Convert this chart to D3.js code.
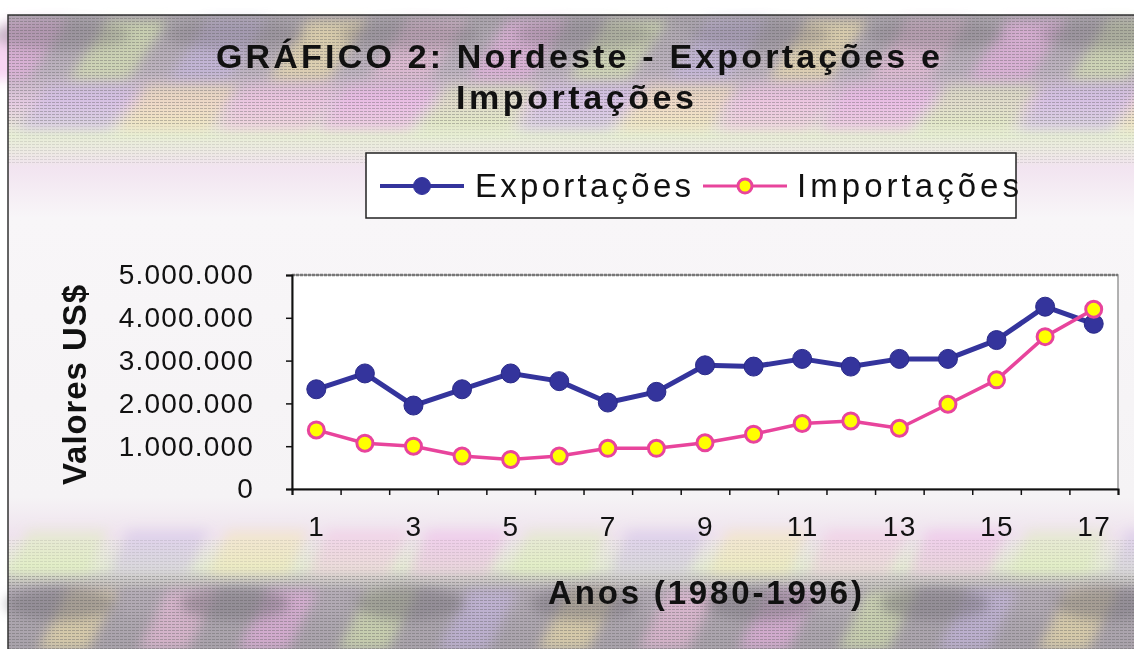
<!DOCTYPE html>
<html>
<head>
<meta charset="utf-8">
<script src="https://cdn.jsdelivr.net/npm/d3@7"></script>
<style>
  body { margin: 0; background: #fff; }
  svg { display: block; }
  text { font-family: "Liberation Sans", Arial, sans-serif; fill: #111; }
</style>
</head>
<body>
<div id="chart"></div>
<script>
'use strict';

// data (US$)
var anos = [1, 2, 3, 4, 5, 6, 7, 8, 9, 10, 11, 12, 13, 14, 15, 16, 17];
var exportacoes = [2330000, 2700000, 1950000, 2330000, 2700000, 2520000, 2020000, 2270000,
                   2890000, 2860000, 3040000, 2860000, 3040000, 3040000, 3480000, 4260000, 3860000];
var importacoes = [1380000, 1070000, 1000000, 770000, 690000, 770000, 950000, 950000,
                   1080000, 1280000, 1530000, 1590000, 1420000, 1980000, 2550000, 3560000, 4200000];
var yTicks = [0, 1000000, 2000000, 3000000, 4000000, 5000000];
var xLabels = [1, 3, 5, 7, 9, 11, 13, 15, 17];

var chart = {};
chart.W = 1134;
chart.H = 649;
chart.plot = {left: 292, right: 1118, top: 275, bottom: 489};
chart.blue = '#34349c';
chart.pink = '#e8449c';

chart.svg = d3.select('#chart').append('svg')
    .attr('width', chart.W)
    .attr('height', chart.H);

chart.drawBackground = function(svg) {
    var defs = svg.append('defs');

    var g = defs.append('linearGradient').attr('id', 'bgGrad')
        .attr('x1', 0).attr('y1', 0).attr('x2', 0).attr('y2', 1);
    [[0, '#a9a3ab'], [0.09, '#bdb3bf'], [0.14, '#e6cce2'], [0.19, '#e8efd6'],
     [0.24, '#f2e4f0'], [0.32, '#f8f6f8'], [0.76, '#f5f3f5'], [0.82, '#efe3ee'],
     [0.87, '#e6ecd6'], [0.91, '#b4acb6'], [1, '#a8a2aa']].forEach(function(s) {
        g.append('stop').attr('offset', s[0]).attr('stop-color', s[1]);
    });

    var p = defs.append('pattern').attr('id', 'stripes')
        .attr('width', 4).attr('height', 3).attr('patternUnits', 'userSpaceOnUse');
    p.append('rect').attr('width', 3).attr('height', 1).attr('fill', '#555').attr('opacity', 0.35);

    defs.append('filter').attr('id', 'soft')
        .append('feGaussianBlur').attr('stdDeviation', 6);

    svg.append('rect')
        .attr('x', 8).attr('y', 15)
        .attr('width', chart.W - 8).attr('height', chart.H - 15)
        .attr('fill', 'url(#bgGrad)');

    // pastel swooshes in top and bottom bands
    var sw = svg.append('g').attr('filter', 'url(#soft)');
    var cols = ['#f0b0e8', '#dcefb0', '#c8b8e8', '#f8e8a8', '#f4c0e0'];
    d3.range(0, 12).forEach(function(i) {
        var x0 = 8 + i * 100;
        sw.append('path')
            .attr('d', 'M' + x0 + ',20 l60,0 l-40,60 l-60,0 Z')
            .attr('fill', cols[i % 5]).attr('opacity', 0.55);
        sw.append('path')
            .attr('d', 'M' + (x0 + 40) + ',85 l90,0 l-30,45 l-90,0 Z')
            .attr('fill', cols[(i + 2) % 5]).attr('opacity', 0.45);
        sw.append('path')
            .attr('d', 'M' + (x0 + 20) + ',530 l80,0 l-20,45 l-80,0 Z')
            .attr('fill', cols[(i + 1) % 5]).attr('opacity', 0.4);
        sw.append('path')
            .attr('d', 'M' + (x0 + 60) + ',590 l50,0 l-30,60 l-50,0 Z')
            .attr('fill', cols[(i + 3) % 5]).attr('opacity', 0.55);
    });

    // gray blobs in the top and bottom bands
    var gb = svg.append('g').attr('filter', 'url(#soft)');
    d3.range(0, 7).forEach(function(i) {
        gb.append('ellipse')
            .attr('cx', 60 + i * 175).attr('cy', 604)
            .attr('rx', 55).attr('ry', 16)
            .attr('fill', '#7c7880').attr('opacity', 0.55);
        gb.append('ellipse')
            .attr('cx', 60 + i * 175).attr('cy', 35)
            .attr('rx', 70).attr('ry', 14)
            .attr('fill', '#7c7880').attr('opacity', 0.4);
    });

    svg.append('rect').attr('x', 8).attr('y', 15).attr('width', chart.W - 8).attr('height', 110)
        .attr('fill', 'url(#stripes)');
    svg.append('rect').attr('x', 8).attr('y', 575).attr('width', chart.W - 8).attr('height', 74)
        .attr('fill', 'url(#stripes)');
    svg.append('rect').attr('x', 8).attr('y', 540).attr('width', chart.W - 8).attr('height', 35)
        .attr('fill', 'url(#stripes)').attr('opacity', 0.35);
    svg.append('rect').attr('x', 8).attr('y', 125).attr('width', chart.W - 8).attr('height', 40)
        .attr('fill', 'url(#stripes)').attr('opacity', 0.4);

    svg.append('path')
        .attr('d', 'M8,' + chart.H + ' V15 H' + chart.W)
        .attr('fill', 'none').attr('stroke', '#333').attr('stroke-width', 1.5);
};

chart.drawTitle = function(svg) {
    svg.append('text')
        .attr('x', 216).attr('y', 68)
        .attr('textLength', 724).attr('lengthAdjust', 'spacing')
        .style('font-size', '34px').style('font-weight', 'bold')
        .text('GRÁFICO 2: Nordeste  - Exportações e');
    svg.append('text')
        .attr('x', 456).attr('y', 109)
        .attr('textLength', 238).attr('lengthAdjust', 'spacing')
        .style('font-size', '34px').style('font-weight', 'bold')
        .text('Importações');
};

chart.drawLegend = function(svg) {
    var lg = svg.append('g');
    lg.append('rect')
        .attr('x', 366).attr('y', 153).attr('width', 650).attr('height', 65)
        .attr('fill', '#fff').attr('stroke', '#222').attr('stroke-width', 1.5);

    var items = [
        {name: 'Exportações', x: 380, tx: 475, tw: 216, color: chart.blue, fill: chart.blue},
        {name: 'Importações', x: 703, tx: 797, tw: 222, color: chart.pink, fill: '#ffff00'}
    ];
    items.forEach(function(d) {
        lg.append('line')
            .attr('x1', d.x).attr('x2', d.x + 84)
            .attr('y1', 186).attr('y2', 186)
            .attr('stroke', d.color).attr('stroke-width', d.fill === '#ffff00' ? 3 : 4);
        lg.append('circle')
            .attr('cx', d.x + 42).attr('cy', 186)
            .attr('r', d.fill === '#ffff00' ? 7 : 8.5)
            .attr('fill', d.fill)
            .attr('stroke', d.color).attr('stroke-width', d.fill === '#ffff00' ? 3 : 1);
        lg.append('text')
            .attr('x', d.tx).attr('y', 197)
            .attr('textLength', d.tw).attr('lengthAdjust', 'spacing')
            .style('font-size', '33px')
            .text(d.name);
    });
};

chart.drawPlot = function(svg) {
    var P = chart.plot;

    var x = d3.scaleLinear().domain([0.5, 17.5]).range([P.left, P.right]);
    var y = d3.scaleLinear().domain([0, 5000000]).range([P.bottom, P.top]);

    svg.append('rect')
        .attr('x', P.left).attr('y', P.top)
        .attr('width', P.right - P.left).attr('height', P.bottom - P.top)
        .attr('fill', '#fff')
        .attr('stroke', '#999').attr('stroke-width', 1.5);
    svg.append('line')
        .attr('x1', P.left).attr('x2', P.right)
        .attr('y1', P.top).attr('y2', P.top)
        .attr('stroke', '#777').attr('stroke-width', 2.5)
        .attr('stroke-dasharray', '3,1');

    var fmt = function(v) { return d3.format(',')(v).replace(/,/g, '.'); };

    var yAxis = svg.append('g')
        .attr('transform', 'translate(' + P.left + ',0)')
        .call(d3.axisLeft(y).tickValues(yTicks).tickSize(6).tickPadding(32).tickFormat(fmt));
    yAxis.selectAll('text')
        .style('font-size', '28px').style('letter-spacing', '1.2px')
        .attr('fill', '#222');

    var boundaries = d3.range(0.5, 18, 1);
    svg.append('g')
        .attr('transform', 'translate(0,' + P.bottom + ')')
        .call(d3.axisBottom(x).tickValues(boundaries).tickSize(6).tickFormat(''));
    var xAxis = svg.append('g')
        .attr('transform', 'translate(0,' + P.bottom + ')')
        .call(d3.axisBottom(x).tickValues(xLabels).tickSize(0).tickPadding(27));
    xAxis.select('.domain').remove();
    xAxis.selectAll('text')
        .style('font-size', '28px').style('letter-spacing', '1.5px')
        .attr('fill', '#222');

    svg.selectAll('.domain').attr('stroke', '#111').attr('stroke-width', 2);
    svg.selectAll('.tick line').attr('stroke', '#111').attr('stroke-width', 1.5);

    var line = d3.line()
        .x(function(d, i) { return x(anos[i]); })
        .y(function(d) { return y(d); });

    svg.append('path').datum(exportacoes)
        .attr('d', line)
        .attr('fill', 'none').attr('stroke', chart.blue).attr('stroke-width', 5)
        .attr('stroke-linejoin', 'round');
    svg.append('g').selectAll('circle')
        .data(exportacoes).enter().append('circle')
        .attr('cx', function(d, i) { return x(anos[i]); })
        .attr('cy', function(d) { return y(d); })
        .attr('r', 9.5)
        .attr('fill', chart.blue).attr('stroke', '#2a2a88').attr('stroke-width', 1);

    svg.append('path').datum(importacoes)
        .attr('d', line)
        .attr('fill', 'none').attr('stroke', chart.pink).attr('stroke-width', 3.5)
        .attr('stroke-linejoin', 'round');
    svg.append('g').selectAll('circle')
        .data(importacoes).enter().append('circle')
        .attr('cx', function(d, i) { return x(anos[i]); })
        .attr('cy', function(d) { return y(d); })
        .attr('r', 8)
        .attr('fill', '#ffff00').attr('stroke', chart.pink).attr('stroke-width', 3);

    // axis titles
    svg.append('text')
        .attr('transform', 'translate(86,385) rotate(-90)')
        .attr('text-anchor', 'middle')
        .attr('textLength', 200).attr('lengthAdjust', 'spacing')
        .style('font-size', '33px').style('font-weight', 'bold')
        .text('Valores US$');
    svg.append('text')
        .attr('x', 548).attr('y', 604)
        .attr('textLength', 314).attr('lengthAdjust', 'spacing')
        .style('font-size', '33px').style('font-weight', 'bold')
        .text('Anos (1980-1996)');
};

chart.drawBackground(chart.svg);
chart.drawTitle(chart.svg);
chart.drawLegend(chart.svg);
chart.drawPlot(chart.svg);
</script>
</body>
</html>
